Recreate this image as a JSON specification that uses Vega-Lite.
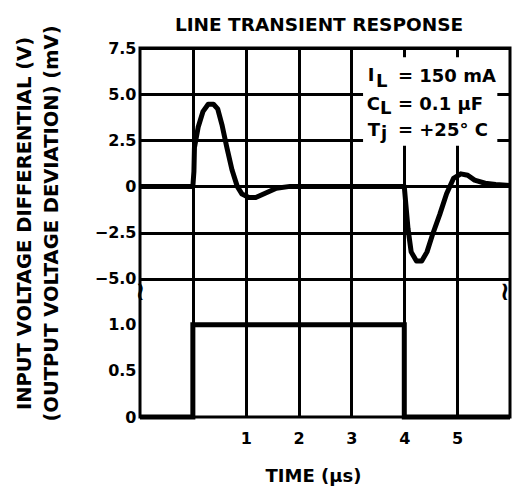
{
  "$schema": "https://vega.github.io/schema/vega-lite/v6.json",
  "width": 370,
  "height": 369,
  "autosize": {"type": "none"},
  "padding": {"left": 140, "top": 48, "right": 2, "bottom": 69},
  "background": "white",
  "title": {"text": "LINE TRANSIENT RESPONSE", "font": "DejaVu Sans", "fontSize": 18.5, "fontWeight": "bold", "color": "black", "anchor": "middle", "offset": -10, "dx": -6},
  "config": {
    "view": {"stroke": "black", "strokeWidth": 3},
    "axis": {
      "labelFont": "DejaVu Sans", "labelFontWeight": "bold", "labelFontSize": 16, "labelColor": "black",
      "titleFont": "DejaVu Sans", "titleFontWeight": "bold", "titleColor": "black",
      "grid": true, "gridColor": "black", "gridWidth": 3, "gridOpacity": 1,
      "ticks": false, "domain": false
    }
  },
  "datasets": {
    "output": [
      {"t": -1, "mV": 0}, {"t": 0, "mV": 0}, {"t": 0.02, "mV": 0.8}, {"t": 0.03, "mV": 2.1},
      {"t": 0.1, "mV": 3.2}, {"t": 0.19, "mV": 4.05}, {"t": 0.29, "mV": 4.45}, {"t": 0.39, "mV": 4.45},
      {"t": 0.47, "mV": 4.2}, {"t": 0.55, "mV": 3.35}, {"t": 0.64, "mV": 2.15}, {"t": 0.74, "mV": 0.9},
      {"t": 0.84, "mV": 0}, {"t": 0.93, "mV": -0.42}, {"t": 1.06, "mV": -0.6}, {"t": 1.19, "mV": -0.6},
      {"t": 1.39, "mV": -0.35}, {"t": 1.58, "mV": -0.1}, {"t": 1.84, "mV": 0}, {"t": 4.0, "mV": 0},
      {"t": 4.03, "mV": -1.0}, {"t": 4.07, "mV": -2.28}, {"t": 4.13, "mV": -3.55}, {"t": 4.23, "mV": -4.05},
      {"t": 4.33, "mV": -4.05}, {"t": 4.43, "mV": -3.55}, {"t": 4.53, "mV": -2.65}, {"t": 4.67, "mV": -1.53},
      {"t": 4.8, "mV": -0.4}, {"t": 4.93, "mV": 0.43}, {"t": 5.07, "mV": 0.68}, {"t": 5.2, "mV": 0.6},
      {"t": 5.33, "mV": 0.34}, {"t": 5.53, "mV": 0.17}, {"t": 5.73, "mV": 0.1}, {"t": 6, "mV": 0.05}
    ],
    "input": [
      {"t": -1, "V": 0}, {"t": 0, "V": 1}, {"t": 4, "V": 0}, {"t": 6, "V": 0}
    ],
    "box": [
      {"t": 3.22, "t2": 5.76, "mV": 7.0, "mV2": 2.2}
    ],
    "notes": [
      {"t": 3.31, "mV": 5.7, "label": "I"},
      {"t": 3.465, "mV": 5.4, "label": "L"},
      {"t": 3.88, "mV": 5.68, "label": "= 150 mA"},
      {"t": 3.29, "mV": 4.12, "label": "C"},
      {"t": 3.54, "mV": 3.9, "label": "L"},
      {"t": 3.88, "mV": 4.12, "label": "= 0.1 μF"},
      {"t": 3.31, "mV": 2.75, "label": "T"},
      {"t": 3.56, "mV": 2.55, "label": "j"},
      {"t": 3.88, "mV": 2.75, "label": "= +25° C"}
    ],
    "breaks": [
      {"t": -1, "mV": -5.7, "label": "≀"},
      {"t": 5.9, "mV": -5.7, "label": "≀"}
    ]
  },
  "encoding": {
    "x": {
      "field": "t", "type": "quantitative",
      "scale": {"domain": [-1, 6], "nice": false, "zero": false},
      "axis": {
        "values": [0, 1, 2, 3, 4, 5],
        "labelExpr": "datum.value == 0 ? '' : datum.label",
        "labelPadding": 13,
        "title": "TIME (μs)", "titleFontSize": 18,
        "titleX": 173, "titleY": 59, "titleAlign": "center", "titleBaseline": "middle"
      }
    }
  },
  "layer": [
    {
      "encoding": {
        "y": {
          "field": "mV", "type": "quantitative",
          "scale": {"domain": [-12.5, 7.5], "nice": false, "zero": false},
          "axis": {
            "orient": "left",
            "values": [-5, -2.5, 0, 2.5, 5, 7.5],
            "labelExpr": "datum.value == 0 ? '0' : format(datum.value, '.1f')",
            "labelPadding": 4,
            "title": ["INPUT VOLTAGE DIFFERENTIAL (V)", "(OUTPUT VOLTAGE DEVIATION) (mV)"],
            "titleFontSize": 19.5, "titleLineHeight": 27, "titleAngle": 270,
            "titleX": -116, "titleY": 175, "titleAlign": "center", "titleBaseline": "middle"
          }
        }
      },
      "layer": [
        {
          "data": {"name": "box"},
          "mark": {"type": "rect", "fill": "white", "stroke": null},
          "encoding": {"x2": {"field": "t2"}, "y2": {"field": "mV2"}}
        },
        {
          "data": {"name": "output"},
          "mark": {"type": "line", "color": "black", "strokeWidth": 5, "strokeJoin": "round"},
          "encoding": {}
        },
        {
          "data": {"name": "notes"},
          "mark": {"type": "text", "align": "left", "baseline": "alphabetic", "font": "DejaVu Sans", "fontWeight": "bold", "fontSize": 18, "color": "black"},
          "encoding": {"text": {"field": "label"}}
        },
        {
          "data": {"name": "breaks"},
          "mark": {"type": "text", "align": "center", "baseline": "middle", "font": "DejaVu Sans", "fontWeight": "bold", "fontSize": 26, "color": "black"},
          "encoding": {"text": {"field": "label"}}
        }
      ]
    },
    {
      "data": {"name": "input"},
      "mark": {"type": "line", "color": "black", "strokeWidth": 5, "interpolate": "step-after"},
      "encoding": {
        "y": {
          "field": "V", "type": "quantitative",
          "scale": {"domain": [0, 4], "nice": false, "zero": false},
          "axis": {
            "orient": "left",
            "values": [0, 0.5, 1],
            "labelExpr": "datum.value == 0 ? '0' : format(datum.value, '.1f')",
            "labelPadding": 4,
            "title": null
          }
        }
      }
    }
  ],
  "resolve": {"scale": {"y": "independent"}, "axis": {"y": "independent"}}
}
